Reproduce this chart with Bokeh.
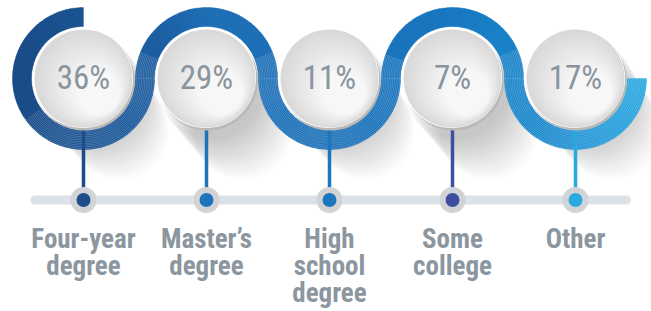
import numpy as np
from bokeh.plotting import figure
from bokeh.models import Range1d, ColumnDataSource
from bokeh.core.properties import value
from bokeh.embed import file_html
from bokeh.resources import INLINE

# ---------------- data ----------------
categories = ["Four-year\ndegree", "Master\u2019s\ndegree", "High\nschool\ndegree", "Some\ncollege", "Other"]
shares = [36, 29, 11, 7, 17]
pin_colors = ["#1d4c86", "#1e74bb", "#1c76bd", "#3e4fa0", "#2aa9e1"]

FONT = "'Liberation Sans Narrow', 'Roboto Condensed', 'DejaVu Sans Condensed', 'Open Sans Condensed', 'Noto Sans', sans-serif"

# ---------------- layout (page pixels, y downward) ----------------
W, H = 651, 311
def Y(py):
    return H - py

x0, step = 83, 123
centers = [x0 + i * step for i in range(len(shares))]
cy = 78
R = 49
r_in, r_out = 52, 71
track_y = 199.5

p = figure(width=W, height=H, x_range=Range1d(0, W), y_range=Range1d(0, H),
           output_backend="svg", toolbar_location=None, x_axis_type=None, y_axis_type=None,
           min_border=0, background_fill_color="white", border_fill_color="white")
p.outline_line_color = None
p.grid.visible = False

def hex2rgb(h):
    h = h.lstrip("#")
    return np.array([int(h[i:i + 2], 16) for i in (0, 2, 4)], dtype=float)

def rgb2hex(c):
    return "#%02x%02x%02x" % tuple(int(round(v)) for v in c)

stop_x = [10, 150, 210, 330, 450, 560, 650]
stop_c = [hex2rgb(c) for c in ["#1a4a86", "#1b5c9f", "#1e6fb6", "#1b70b7", "#1877c0", "#1c8dd0", "#2aaae2"]]
def ribbon_color(x):
    x = min(max(x, stop_x[0]), stop_x[-1])
    for i in range(len(stop_x) - 1):
        if stop_x[i] <= x <= stop_x[i + 1]:
            t = (x - stop_x[i]) / (stop_x[i + 1] - stop_x[i])
            return rgb2hex(stop_c[i] * (1 - t) + stop_c[i + 1] * t)
    return rgb2hex(stop_c[-1])

# ---------------- shadows ----------------
sx, sy, sr, sa = [], [], [], []
for cx in centers:
    for k in range(14):
        t = k / 13
        sx.append(cx + 4 + 32 * t)
        sy.append(Y(cy + 8 + 44 * t))
        sr.append(R + 4 - 4 * t)
        sa.append(0.014)
p.circle(x=sx, y=sy, radius=sr, fill_color="#000000", fill_alpha=sa, line_color=None)

# ---------------- ribbon ----------------
arcs = [(90, 360), (0, 180), (180, 360), (0, 180), (180, 360)]
striped = [[(215, 360)], [(0, 22), (158, 180)], [(180, 360)], [(0, 25), (160, 180)], [(180, 360)]]

wx, wy, ws, we, wc = [], [], [], [], []
seg = 2.0
for cx, (a0, a1) in zip(centers, arcs):
    a = a0
    while a < a1 - 1e-9:
        b = min(a + seg, a1)
        mid = np.radians((a + b) / 2)
        xm = cx + 0.5 * (r_in + r_out) * np.cos(mid)
        wx.append(cx); wy.append(Y(cy))
        ws.append(np.radians(a)); we.append(np.radians(min(b + 0.6, a1)))
        wc.append(ribbon_color(xm))
        a = b
src = ColumnDataSource(dict(x=wx, y=wy, s=ws, e=we, c=wc))
p.annular_wedge(x="x", y="y", inner_radius=r_in, outer_radius=r_out, start_angle="s", end_angle="e",
                fill_color="c", line_color="c", line_width=0.3, source=src)

# stripes in the lower (turning) parts of the ribbon
ax, ay, ar, a_s, a_e = [], [], [], [], []
for cx, ranges in zip(centers, striped):
    for (a0, a1) in ranges:
        for rr in np.arange(r_in + 1.2, r_out - 0.5, 1.7):
            ax.append(cx); ay.append(Y(cy)); ar.append(rr)
            a_s.append(np.radians(a0)); a_e.append(np.radians(a1))
p.arc(x=ax, y=ay, radius=ar, start_angle=a_s, end_angle=a_e,
      line_color="white", line_alpha=0.32, line_width=0.6)

# ---------------- pins ----------------
for cx, col in zip(centers, pin_colors):
    p.line([cx, cx], [Y(122), Y(track_y)], line_color=col, line_width=3.5)

# ---------------- circles ----------------
p.circle(x=[c + 1.2 for c in centers], y=[Y(cy + 2)] * 5, radius=R + 1,
         fill_color="#b9b9b9", line_color=None)
p.circle(x=[c - 0.6 for c in centers], y=[Y(cy - 0.6)] * 5, radius=R + 1.2,
         fill_color="#ffffff", line_color=None)
c_dark, c_light = hex2rgb("#d9d9d9"), hex2rgb("#f7f7f7")
gx, gy, gr, gc = [], [], [], []
nl = 14
for k in range(nl):
    t = k / (nl - 1)
    rk = R * (1 - 0.55 * t)
    d = (R - rk) * 0.75
    col = rgb2hex(c_dark * (1 - t) + c_light * t)
    for cx in centers:
        gx.append(cx + d * 0.707); gy.append(Y(cy + d * 0.707)); gr.append(rk); gc.append(col)
p.circle(x=gx, y=gy, radius=gr, fill_color=gc, line_color=None)

# percentages
p.text(x=centers, y=[Y(77)] * 5, text=[f"{v}%" for v in shares],
       text_font=value(FONT), text_font_size="33px",
       text_color="#8a949d", text_align="center", text_baseline="alphabetic")

# ---------------- track ----------------
p.line([34.5, 626], [Y(track_y)] * 2, line_color="#dde1e8", line_width=9, line_cap="round")
p.circle(x=centers, y=[Y(track_y)] * 5, radius=13, fill_color="#d2d3d6", line_color=None)
p.circle(x=centers, y=[Y(track_y)] * 5, radius=7, fill_color=pin_colors, line_color=None)

# ---------------- labels ----------------
lx, ly, lt = [], [], []
for cx, cat in zip(centers, categories):
    for j, line in enumerate(cat.split("\n")):
        lx.append(cx); ly.append(Y(238 + 27 * j)); lt.append(line)
p.text(x=lx, y=ly, text=lt, text_font=value(FONT), text_font_style="bold",
       text_font_size="27px", text_color="#8b969f", text_align="center", text_baseline="alphabetic")

open("out.html", "w").write(file_html(p, INLINE))
